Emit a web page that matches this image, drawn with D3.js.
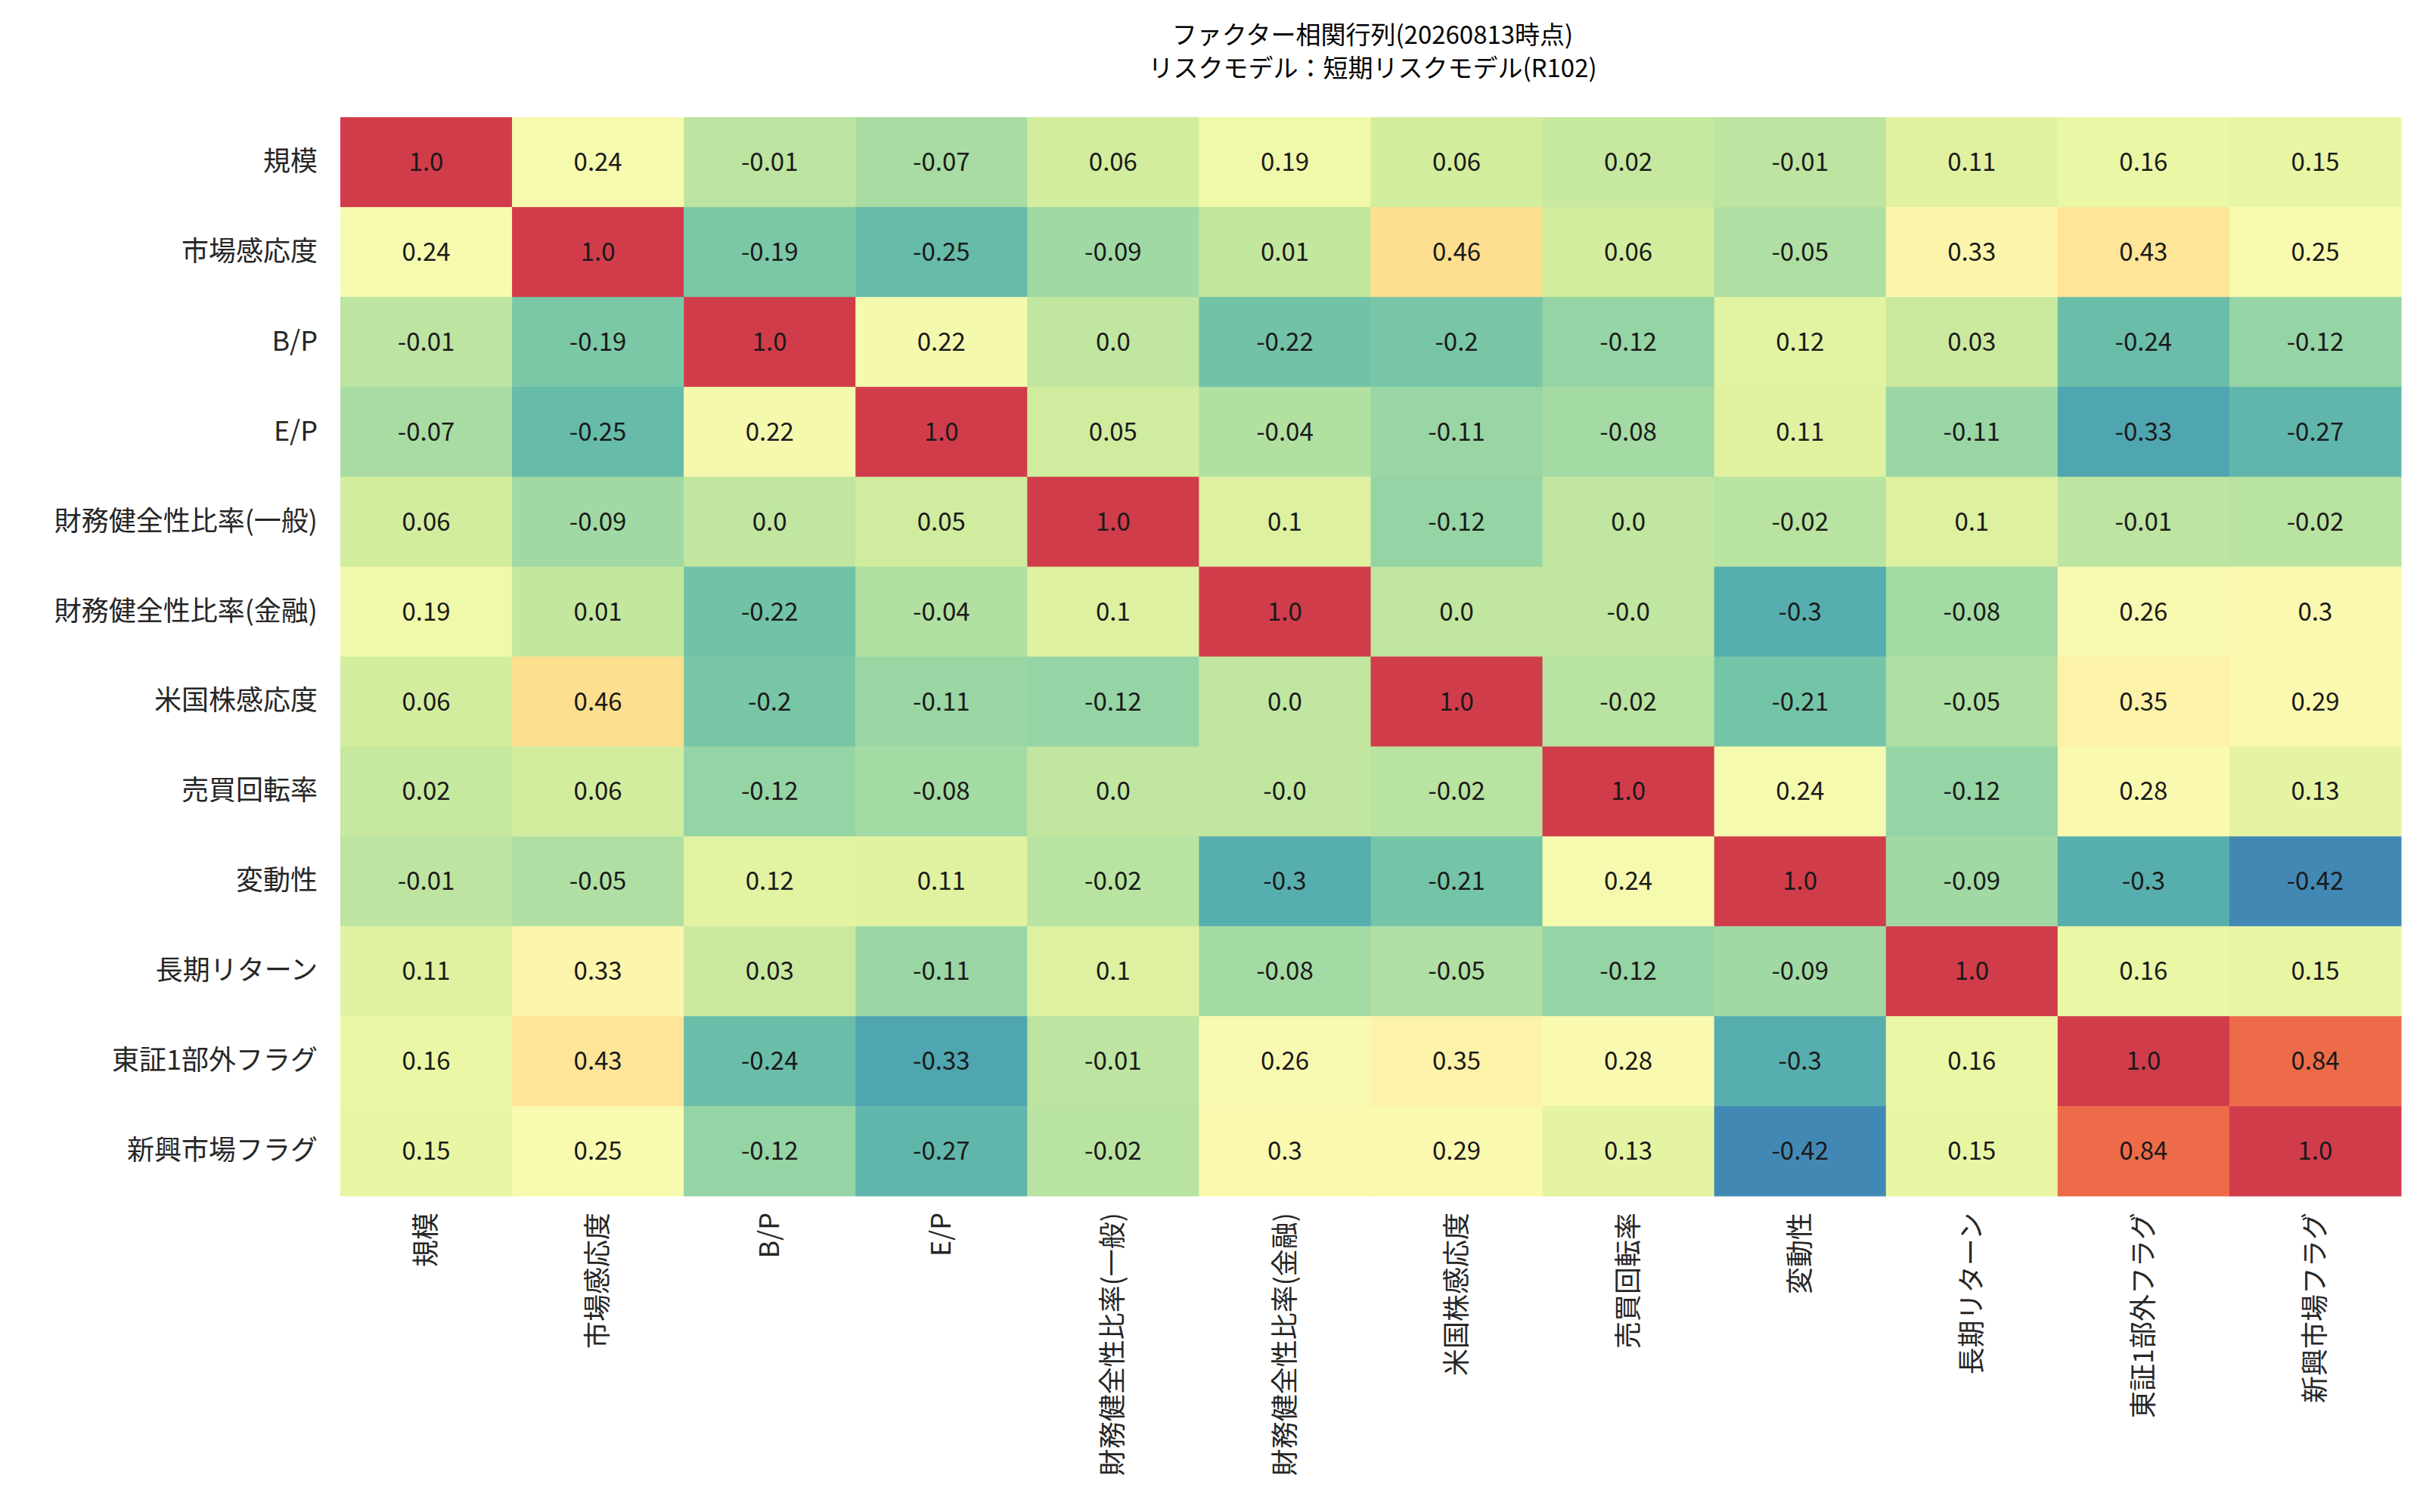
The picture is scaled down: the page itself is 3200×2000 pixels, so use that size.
<!DOCTYPE html>
<html><head><meta charset="utf-8">
<script src="https://cdn.jsdelivr.net/npm/d3@7"></script>
<style>body{margin:0;background:#fff}text{font-family:"Noto Sans CJK JP","DejaVu Sans",sans-serif}</style>
</head><body><div id="chart"></div>
<script>
// factor names and correlation values
var factors = ["規模","市場感応度","B/P","E/P","財務健全性比率(一般)","財務健全性比率(金融)","米国株感応度","売買回転率","変動性","長期リターン","東証1部外フラグ","新興市場フラグ"];
var corr = [
  [1.0,0.24,-0.01,-0.07,0.06,0.19,0.06,0.02,-0.01,0.11,0.16,0.15],
  [0.24,1.0,-0.19,-0.25,-0.09,0.01,0.46,0.06,-0.05,0.33,0.43,0.25],
  [-0.01,-0.19,1.0,0.22,0.0,-0.22,-0.2,-0.12,0.12,0.03,-0.24,-0.12],
  [-0.07,-0.25,0.22,1.0,0.05,-0.04,-0.11,-0.08,0.11,-0.11,-0.33,-0.27],
  [0.06,-0.09,0.0,0.05,1.0,0.1,-0.12,0.0,-0.02,0.1,-0.01,-0.02],
  [0.19,0.01,-0.22,-0.04,0.1,1.0,0.0,-0.0,-0.3,-0.08,0.26,0.3],
  [0.06,0.46,-0.2,-0.11,-0.12,0.0,1.0,-0.02,-0.21,-0.05,0.35,0.29],
  [0.02,0.06,-0.12,-0.08,0.0,-0.0,-0.02,1.0,0.24,-0.12,0.28,0.13],
  [-0.01,-0.05,0.12,0.11,-0.02,-0.3,-0.21,0.24,1.0,-0.09,-0.3,-0.42],
  [0.11,0.33,0.03,-0.11,0.1,-0.08,-0.05,-0.12,-0.09,1.0,0.16,0.15],
  [0.16,0.43,-0.24,-0.33,-0.01,0.26,0.35,0.28,-0.3,0.16,1.0,0.84],
  [0.15,0.25,-0.12,-0.27,-0.02,0.3,0.29,0.13,-0.42,0.15,0.84,1.0]
];
// cells printed as "-0.0" in the original
var negZero = [[5,7],[7,5]];

var W = 3200, H = 2000;
var margin = {top: 155, left: 450, right: 25, bottom: 418};
var width = W - margin.left - margin.right,
    height = H - margin.top - margin.bottom;

var svg = d3.select("#chart").append("svg").attr("width", W).attr("height", H);

svg.append("text").attr("x", 1815).attr("y", 58).attr("text-anchor","middle")
  .style("font-size","33px").text("ファクター相関行列(20260813時点)");
svg.append("text").attr("x", 1815).attr("y", 102).attr("text-anchor","middle")
  .style("font-size","33px").text("リスクモデル：短期リスクモデル(R102)");

var g = svg.append("g").attr("transform","translate(" + margin.left + "," + margin.top + ")");

var x = d3.scaleBand().domain(factors).range([0, width]);
var y = d3.scaleBand().domain(factors).range([0, height]);
var color = d3.scaleLinear().domain([-0.42, 1.0]).range([0.9, 0.1]);

var cells = [];
corr.forEach(function(row, i) {
  row.forEach(function(v, j) { cells.push({r: factors[i], c: factors[j], v: v, i: i, j: j}); });
});

g.selectAll("rect").data(cells).enter().append("rect")
  .attr("x", d => x(d.c)).attr("y", d => y(d.r))
  .attr("width", x.bandwidth() + 0.5).attr("height", y.bandwidth() + 0.5)
  .attr("fill", d => d3.interpolateSpectral(color(d.v)));

g.selectAll("text.val").data(cells).enter().append("text").attr("class","val")
  .attr("x", d => x(d.c) + x.bandwidth() / 2)
  .attr("y", d => y(d.r) + y.bandwidth() / 2)
  .attr("dy","0.35em").attr("text-anchor","middle")
  .style("font-size","33px").attr("fill","#1a1a1a")
  .text(function(d) {
    if (negZero.some(p => p[0] === d.i && p[1] === d.j)) return "-0.0";
    return Number.isInteger(d.v) ? d.v.toFixed(1) : String(d.v);
  });

var yAxis = g.append("g").call(d3.axisLeft(y).tickSize(0).tickPadding(30));
yAxis.select(".domain").remove();
yAxis.selectAll("text").style("font-size","36px").attr("fill","#262626")
  .style("font-family",'"Noto Sans CJK JP","DejaVu Sans",sans-serif');

var xAxis = g.append("g").attr("transform","translate(0," + height + ")")
  .call(d3.axisBottom(x).tickSize(0));
xAxis.select(".domain").remove();
xAxis.selectAll("text").style("font-size","36px").attr("fill","#262626")
  .style("font-family",'"Noto Sans CJK JP","DejaVu Sans",sans-serif')
  .attr("text-anchor","end").attr("dy","0.35em")
  .attr("transform","translate(0,22) rotate(-90)").attr("x",0).attr("y",0);
</script></body></html>
